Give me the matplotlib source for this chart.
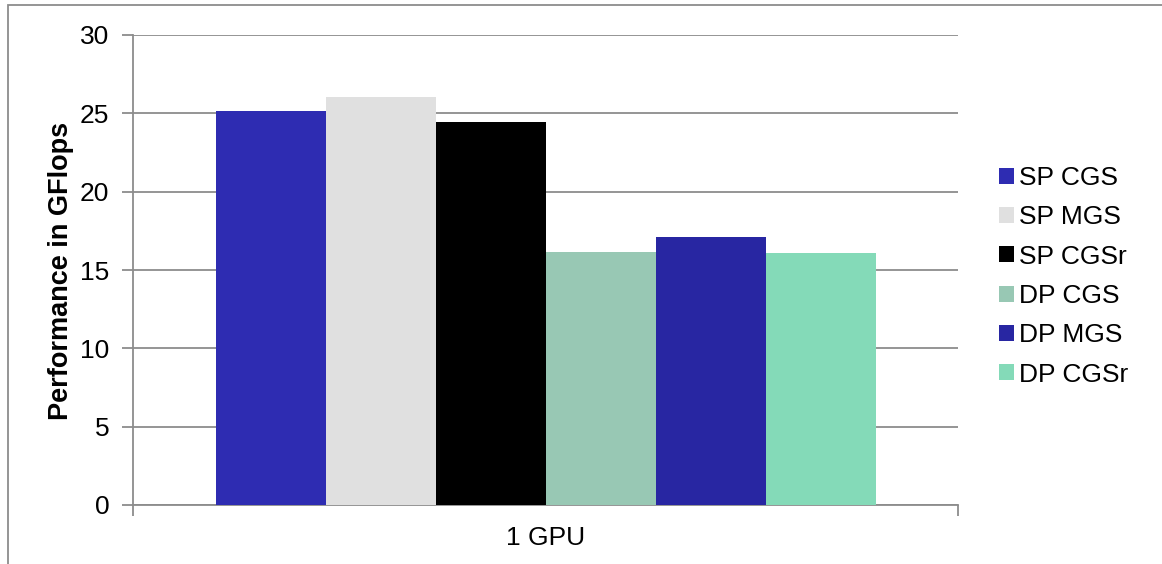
import matplotlib
matplotlib.use("Agg")
import matplotlib.pyplot as plt
from matplotlib.patches import Patch, Rectangle

plt.rcParams['font.family'] = ['Liberation Sans', 'DejaVu Sans']

# Data
category = "1 GPU"
series = ["SP CGS", "SP MGS", "SP CGSr", "DP CGS", "DP MGS", "DP CGSr"]
values = [25.15, 26.05, 24.45, 16.15, 17.1, 16.1]
colors = ["#2e2cb2", "#e0e0e0", "#000000", "#98c8b4", "#2826a2", "#84dab8"]
y_ticks = [0, 5, 10, 15, 20, 25, 30]

W, H, DPI = 1162, 564, 100
fig = plt.figure(figsize=(W / DPI, H / DPI), dpi=DPI)
ax = fig.add_axes([133 / W, 59 / H, 825 / W, 470 / H])

grid_col = "#8c8c8c"
fs = 19
n = len(series)
group_w = 0.8
bw = group_w / n
for i, (name, v, c) in enumerate(zip(series, values, colors)):
    x = -group_w / 2 + bw * (i + 0.5)
    ax.bar(x, v, width=bw, color=c, label=name, zorder=3, linewidth=0)

ax.set_xlim(-0.5, 0.5)
ax.set_ylim(0, 30)
ax.set_yticks(y_ticks)
ax.yaxis.grid(True, color=grid_col, linewidth=1.3, zorder=0)
ax.set_axisbelow(True)

for s in ("top", "right"):
    ax.spines[s].set_visible(False)
for s in ("left", "bottom"):
    ax.spines[s].set_color(grid_col)
    ax.spines[s].set_linewidth(1.3)

ax.tick_params(axis="y", direction="out", length=8, width=1.3, color=grid_col,
               labelsize=fs, pad=9)
ax.set_xticks([-0.5, 0.5])
ax.set_xticklabels(["", ""])
ax.tick_params(axis="x", which="major", direction="out", length=8, width=1.3,
               color=grid_col)
ax.set_xticks([0.0], minor=True)
ax.set_xticklabels([category], minor=True)
ax.tick_params(axis="x", which="minor", length=0, labelsize=fs, pad=15)

fig.text(61 / W, 1 - 271 / H, "Performance in GFlops", rotation=90,
         ha="center", va="center", fontsize=19.5, fontweight="bold")

handles = [Patch(facecolor=c, edgecolor="none") for c in colors]
fig.legend(handles, series, loc="upper left",
           bbox_to_anchor=(999 / W, 1 - 166 / H), frameon=False,
           fontsize=fs, handlelength=0.55, handleheight=0.55,
           handletextpad=0.2, labelspacing=0.58, borderaxespad=0,
           borderpad=0)

# Chart frame (left and top edges fall inside the canvas)
fig.patches.append(Rectangle((8 / W, -0.1), 1.2, 1 - 5 / H + 0.1,
                             transform=fig.transFigure, fill=False,
                             edgecolor=grid_col, linewidth=1.3))

fig.savefig("out.png", dpi=DPI)
